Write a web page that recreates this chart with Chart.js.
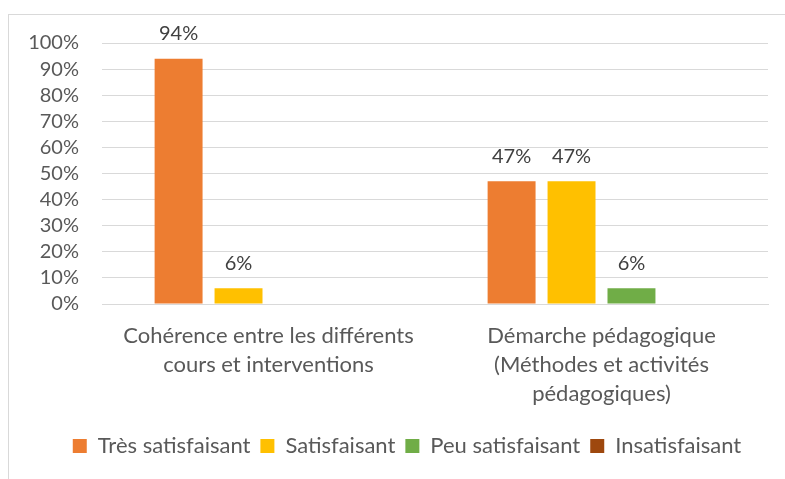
<!DOCTYPE html>
<html>
<head>
<meta charset="utf-8">
<script src="https://cdn.jsdelivr.net/npm/chart.js@4/dist/chart.umd.min.js"></script>
<style>
html,body{margin:0;padding:0;background:#fff;}
#frame{position:absolute;left:8px;top:14px;width:800px;height:500px;border-left:1px solid #d9d9d9;border-top:1px solid #d9d9d9;}
#wrap{position:absolute;left:0;top:0;width:785px;height:479px;}
</style>
</head>
<body>
<div id="frame"></div>
<div id="wrap"><canvas id="c" width="785" height="479"></canvas></div>
<script>
const categories = [
  ['Cohérence entre les différents', 'cours et interventions'],
  ['Démarche pédagogique', '(Méthodes et activités', 'pédagogiques)']
];
const seriesNames = ['Très satisfaisant', 'Satisfaisant', 'Peu satisfaisant', 'Insatisfaisant'];
const seriesColors = ['#ED7D31', '#FFC000', '#70AD47', '#9E480E'];
const tresSatisfaisant = [94, 47];
const satisfaisant = [6, 47];
const peuSatisfaisant = [0, 6];
const insatisfaisant = [0, 0];
const yTicks = [0, 10, 20, 30, 40, 50, 60, 70, 80, 90, 100];

const seriesValues = [tresSatisfaisant, satisfaisant, peuSatisfaisant, insatisfaisant];
const FONT = 'Lato, "Open Sans", sans-serif';

const labelPlugin = {
  id: 'valueLabels',
  afterLayout(chart) {
    if (chart.legend) { chart.legend.left += 23; chart.legend.right += 23; }
  },
  afterDatasetsDraw(chart) {
    const ctx = chart.ctx;
    ctx.save();
    ctx.font = '20px ' + FONT;
    ctx.fillStyle = '#404040';
    ctx.textAlign = 'center';
    ctx.textBaseline = 'middle';
    chart.data.datasets.forEach((ds, i) => {
      const meta = chart.getDatasetMeta(i);
      meta.data.forEach((bar, j) => {
        const v = ds.data[j];
        if (v > 0) ctx.fillText(v + '%', bar.x, bar.y - 25);
      });
    });
    ctx.restore();
  }
};

new Chart(document.getElementById('c'), {
  type: 'bar',
  data: {
    labels: categories,
    datasets: seriesNames.map((n, i) => ({
      label: n,
      data: seriesValues[i],
      backgroundColor: seriesColors[i],
      borderWidth: 0,
      categoryPercentage: 0.72,
      barPercentage: 0.8
    }))
  },
  options: {
    responsive: false,
    animation: false,
    layout: { padding: { left: 0, right: 17, top: 43, bottom: 12 } },
    plugins: {
      tooltip: { enabled: false },
      legend: {
        position: 'bottom',
        labels: {
          boxWidth: 14, boxHeight: 14, padding: 10,
          color: '#595959',
          font: { family: FONT, size: 22 }
        }
      }
    },
    scales: {
      x: {
        grid: { display: false },
        border: { color: '#d9d9d9', width: 1 },
        ticks: {
          color: '#595959',
          font: { family: FONT, size: 22, lineHeight: 1.3 },
          padding: 10,
          maxRotation: 0, autoSkip: false
        },
        afterFit(s) { s.height = 121; }
      },
      y: {
        min: 0, max: 100,
        afterBuildTicks(s) { s.ticks = yTicks.map(v => ({ value: v })); },
        grid: { color: '#d9d9d9', lineWidth: 1, drawTicks: false },
        border: { display: false },
        ticks: {
          color: '#595959',
          font: { family: FONT, size: 20 },
          padding: 23,
          autoSkip: false,
          callback: v => v + '%'
        },
        afterFit(s) { s.width = 102; }
      }
    }
  },
  plugins: [labelPlugin]
});
</script>
</body>
</html>
